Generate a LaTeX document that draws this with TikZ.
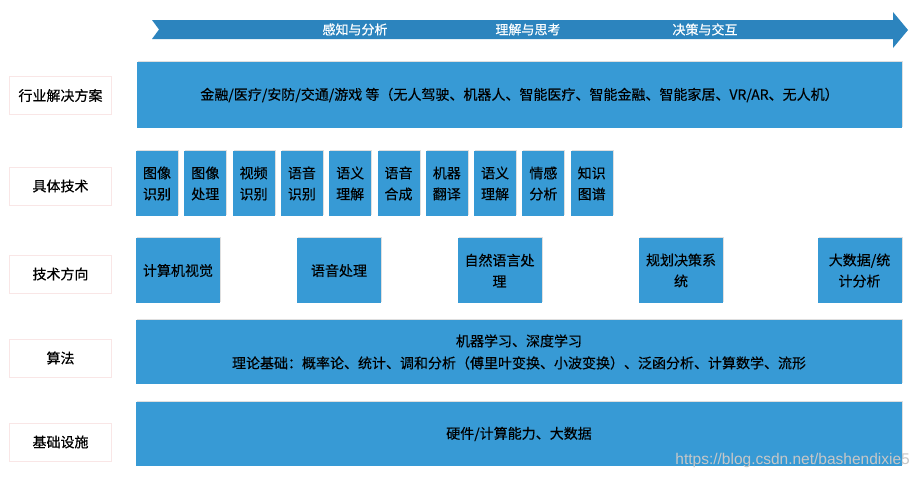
\documentclass[tikz,border=0pt]{standalone}
\usepackage{fontspec}
\setmainfont[FakeBold=0.35]{Noto Sans CJK SC}
\newfontfamily\urlfont{Liberation Sans}
\usetikzlibrary{shadows}

\newlength{\du}
\setlength{\du}{1pt}

\definecolor{boxblue}{rgb}{0.215686, 0.603922, 0.835294}
\definecolor{arrowblue}{rgb}{0.172549, 0.517647, 0.745098}
\definecolor{labelline}{rgb}{0.976471, 0.901961, 0.901961}

\tikzset{
  bluebox/.style={fill=boxblue, draw=none, inner sep=0pt, align=center,
    font=\fontsize{14\du}{21\du}\selectfont,
    drop shadow={shadow xshift=1\du, shadow yshift=1.5\du, opacity=0.25, fill=black!50}},
  layerlabel/.style={fill=white, draw=labelline, line width=0.6\du, inner sep=0pt,
    minimum width=102\du, minimum height=38\du, font=\fontsize{14\du}{17\du}\selectfont},
  arrowtext/.style={text=white, font=\fontsize{13\du}{15\du}\selectfont}
}

\begin{document}
\begin{tikzpicture}
\pgftransformxscale{1.000000}
\pgftransformyscale{-1.000000}
\useasboundingbox[fill=white] (0\du,0\du) rectangle (918\du,479\du);
% top arrow
\fill[arrowblue] (152\du,20\du)--(893\du,20\du)--(893\du,12\du)--(908\du,30\du)--(893\du,48\du)--(893\du,39\du)--(152\du,39\du)--(159\du,29.5\du)--cycle;
\node[arrowtext] (perceive) at (355\du,29.5\du){感知与分析};
\node[arrowtext] (understand) at (528\du,29.5\du){理解与思考};
\node[arrowtext] (decide) at (705\du,29.5\du){决策与交互};
% layer labels
\node[layerlabel] (lblapp) at (60.5\du,95.5\du){行业解决方案};
\node[layerlabel] (lbltech) at (60.5\du,186\du){具体技术};
\node[layerlabel] (lbldir) at (60.5\du,274\du){技术方向};
\node[layerlabel] (lblalgo) at (60.5\du,358\du){算法};
\node[layerlabel] (lblinfra) at (60.5\du,442\du){基础设施};
% industry solutions
\node[bluebox, minimum width=765\du, minimum height=66\du] (app) at (519.5\du,95\du){金融/医疗/安防/交通/游戏 等（无人驾驶、机器人、智能医疗、智能金融、智能家居、VR/AR、无人机）};
% concrete techniques
\foreach \t [count=\i] in {图像\\识别, 图像\\处理, 视频\\识别, 语音\\识别, 语义\\理解, 语音\\合成, 机器\\翻译, 语义\\理解, 情感\\分析, 知识\\图谱}
  \node[bluebox, minimum width=42\du, minimum height=65\du] (tech\i) at ({(157+48.3*(\i-1))*\du},183.5\du){\t};
% directions
\node[bluebox, minimum width=84\du, minimum height=65\du] (cv) at (178\du,270.5\du){计算机视觉};
\node[bluebox, minimum width=84\du, minimum height=65\du] (speech) at (339\du,270.5\du){语音处理};
\node[bluebox, minimum width=84\du, minimum height=65\du] (nlp) at (499.5\du,270.5\du){自然语言处\\理};
\node[bluebox, minimum width=84\du, minimum height=65\du] (plan) at (681\du,270.5\du){规划决策系\\统};
\node[bluebox, minimum width=84\du, minimum height=65\du] (bigdata) at (859.5\du,270.5\du){大数据/统\\计分析};
% algorithms
\node[bluebox, minimum width=766\du, minimum height=64\du, font=\fontsize{14\du}{22\du}\selectfont] (algo) at (519\du,352\du){机器学习、深度学习\\理论基础：概率论、统计、调和分析（傅里叶变换、小波变换）、泛函分析、计算数学、流形};
% infrastructure
\node[bluebox, minimum width=766\du, minimum height=64\du] (infra) at (519\du,434\du){硬件/计算能力、大数据};
\node[anchor=east, inner sep=0pt, text=black!22, font=\urlfont\fontsize{15.5\du}{17\du}\selectfont] (url) at (910\du,460\du){https://blog.csdn.net/bashendixie5};
\end{tikzpicture}
\end{document}
